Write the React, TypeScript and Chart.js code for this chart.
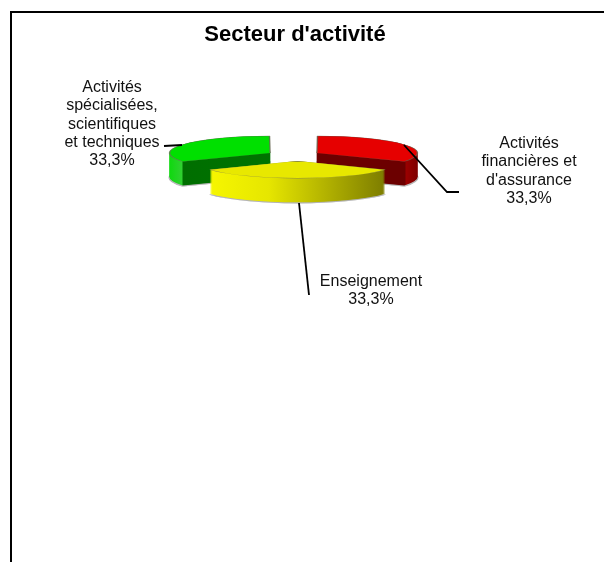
import React, { useEffect, useRef } from "react";
import { Chart, registerables } from "chart.js";

Chart.register(...registerables);

const title = "Secteur d'activité";
const categories = [
  "Activités financières et d'assurance",
  "Enseignement",
  "Activités spécialisées, scientifiques et techniques",
];
const values = [33.3, 33.3, 33.3];
const percentLabels = ["33,3%", "33,3%", "33,3%"];
const labelLines = [
  ["Activités", "financières et", "d'assurance"],
  ["Enseignement"],
  ["Activités", "spécialisées,", "scientifiques", "et techniques"],
];
const topColors = ["#e60000", "#e8e800", "#00e000"];
const slicePush = [108, 134, 108];
const sliceNudge = [0, 4, 0];
const wallStops: [number, number, string][][] = [
  [[317, 0, "#6c0000"], [405, 0.86, "#6c0000"], [406.5, 0.875, "#9a0000"], [419, 1, "#7a0000"]],
  [[211, 0, "#f6f600"], [270, 0.33, "#e6e600"], [340, 0.72, "#a8a800"], [386, 1, "#7c7c00"]],
  [[170, 0, "#10d810"], [182, 0.12, "#30d030"], [183, 0.13, "#006e00"], [270, 1, "#007400"]],
];
const labelAnchors = [
  { x: 529, y: 143.5 },
  { x: 371, y: 281.5 },
  { x: 112, y: 87.5 },
];
const leaders = [
  [[404, 145], [447, 192], [459, 192]],
  [[299, 203], [309, 295]],
  [[164, 146], [182, 145]],
];
const drawOrder = [2, 0, 1];
const SQUASH = 0.17;
const DEPTH = 24;
const PIE_X = 293.5;
const PIE_Y = 155.3;
const LINE_STEP = 18.3;
const FONT = '"Liberation Sans", Arial, sans-serif';

const pie3d = {
  id: "pie3d",
  beforeDatasetDraw(chart: any) {
    const { ctx } = chart;
    const arcs = chart.getDatasetMeta(0).data;
    for (const i of drawOrder) {
      const arc = arcs[i];
      const original = arc.options;
      const shift = PIE_X - arc.x + sliceNudge[i];
      const mid = (arc.startAngle + arc.endAngle) / 2;
      const pushX = (Math.cos(mid) * slicePush[i]) / 4;
      const stops = wallStops[i];
      const toLocal = (x: number) => x - shift - pushX;
      const grad = ctx.createLinearGradient(toLocal(stops[0][0]), 0, toLocal(stops[stops.length - 1][0]), 0);
      stops.forEach((s) => grad.addColorStop(s[1], s[2]));
      const place = (dy: number) => {
        ctx.setTransform(1, 0, 0, SQUASH, shift, PIE_Y + dy - arc.y * SQUASH);
      };
      ctx.save();
      place(DEPTH + 1);
      arc.options = { ...original, backgroundColor: "#b4b4b4", borderColor: "#b4b4b4", borderWidth: 2 };
      arc.draw(ctx);
      for (let d = DEPTH; d >= 0; d -= 0.5) {
        place(d);
        arc.options = { ...original, backgroundColor: grad, borderColor: grad, borderWidth: 0 };
        arc.draw(ctx);
      }
      place(0);
      arc.options = original;
      arc.draw(ctx);
      ctx.restore();
    }
    return false;
  },
  afterDraw(chart: any) {
    const { ctx } = chart;
    ctx.save();
    ctx.strokeStyle = "#000";
    ctx.lineWidth = 1.8;
    leaders.forEach((pts) => {
      ctx.beginPath();
      pts.forEach((p, k) => (k ? ctx.lineTo(p[0], p[1]) : ctx.moveTo(p[0], p[1])));
      ctx.stroke();
    });
    ctx.fillStyle = "#111";
    ctx.font = `16px ${FONT}`;
    ctx.textAlign = "center";
    ctx.textBaseline = "middle";
    labelLines.forEach((lines, i) => {
      const all = [...lines, percentLabels[i]];
      all.forEach((t, k) => ctx.fillText(t, labelAnchors[i].x, labelAnchors[i].y + k * LINE_STEP));
    });
    ctx.restore();
  },
};

export default function App() {
  const ref = useRef<HTMLCanvasElement>(null);
  useEffect(() => {
    const chart = new Chart(ref.current!, {
      type: "pie",
      data: {
        labels: categories,
        datasets: [
          {
            data: values,
            backgroundColor: topColors,
            borderColor: "rgba(110,110,90,0.75)",
            borderWidth: 1.5,
            offset: slicePush,
            radius: 97,
          } as any,
        ],
      },
      options: {
        responsive: false,
        animation: false,
        layout: { padding: 0 },
        plugins: {
          legend: { display: false },
          tooltip: { enabled: false },
          title: {
            display: true,
            text: title,
            color: "#000",
            font: { family: FONT, size: 22, weight: "bold" },
            padding: { top: 22, bottom: 10 },
          },
        },
      },
      plugins: [pie3d],
    } as any);
    return () => chart.destroy();
  }, []);
  return (
    <div style={{ position: "fixed", left: 0, top: 0, width: 604, height: 562, overflow: "hidden", background: "#fff" }}>
      <div style={{ position: "absolute", left: 10, top: 11, right: 0, bottom: 0, borderLeft: "2px solid #000", borderTop: "2px solid #000" }} />
      <canvas ref={ref} width={590} height={562} style={{ position: "absolute", left: 0, top: 0, display: "block" }} />
    </div>
  );
}
